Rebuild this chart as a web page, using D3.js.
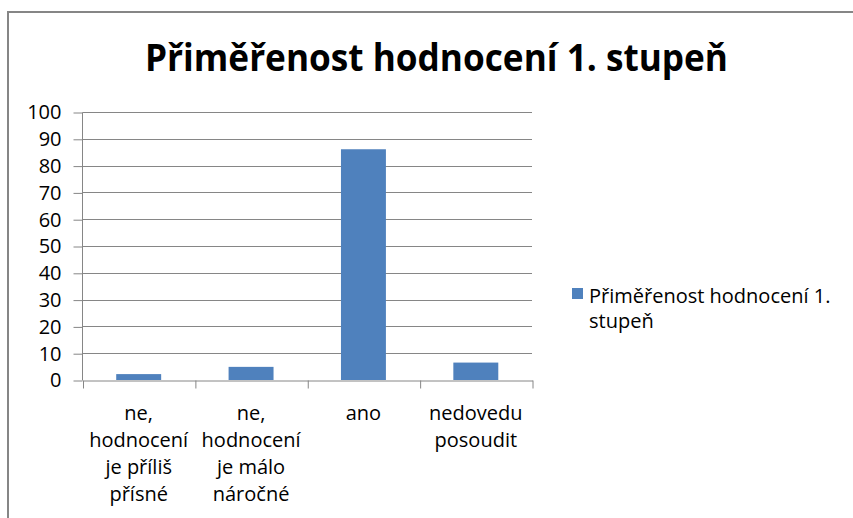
<!DOCTYPE html>
<html lang="cs">
<head>
<meta charset="UTF-8"/>
<title>Přiměřenost hodnocení 1. stupeň</title>
<script src="https://d3js.org/d3.v7.min.js"></script>
<style>
  body { margin: 0; background: #fff; overflow: hidden; }
  svg { display: block; font-family: "Open Sans", "Noto Sans", sans-serif; }
</style>
</head>
<body>
<svg id="chart" width="853" height="518"></svg>
<script>
const categories = [
  ["ne,", "hodnocení", "je příliš", "přísné"],
  ["ne,", "hodnocení", "je málo", "náročné"],
  ["ano"],
  ["nedovedu", "posoudit"]
];
const values = [2.2, 4.9, 86.1, 6.5];
const yTicks = [0, 10, 20, 30, 40, 50, 60, 70, 80, 90, 100];
const title = "Přiměřenost hodnocení 1. stupeň";
const seriesName = ["Přiměřenost hodnocení 1.", "stupeň"];

const svg = d3.select("#chart");
const blue = "#4f81bd";
const grey = "#868686";

// outer frame of the chart object, only top and left edges are in view
svg.append("path")
  .attr("d", "M8,518V12H853")
  .attr("fill", "none")
  .attr("stroke", grey)
  .attr("stroke-width", 2);

svg.append("text")
  .attr("x", 145).attr("y", 71)
  .attr("textLength", 583)
  .attr("lengthAdjust", "spacingAndGlyphs")
  .style("font-size", "38px")
  .style("font-weight", "bold")
  .text(title);

const plotL = 82.5, plotR = 532, plotT = 112, plotB = 380;
const ids = d3.range(values.length);

const band = d3.scaleBand().domain(ids).range([plotL, plotR]);
const x = d3.scaleBand().domain(ids).range([plotL, plotR])
  .paddingInner(0.6).paddingOuter(0.3);
const y = d3.scaleLinear().domain([0, 100]).range([plotB, plotT]);

// gridlines
svg.append("g")
  .selectAll("line")
  .data(yTicks.filter(d => d > 0))
  .join("line")
  .attr("x1", plotL).attr("x2", plotR)
  .attr("y1", d => Math.round(y(d)) + 0.5)
  .attr("y2", d => Math.round(y(d)) + 0.5)
  .attr("stroke", grey);

// y axis
const yAxis = svg.append("g")
  .attr("transform", `translate(${plotL},0.5)`)
  .call(d3.axisLeft(y).tickValues(yTicks).tickSize(9).tickPadding(12));
yAxis.selectAll("line, path").attr("stroke", grey);
yAxis.select(".domain").attr("d", `M0,${plotT}V${plotB}`);
yAxis.selectAll("text")
  .attr("fill", "#000")
  .style("font-size", "20px")
  .style("font-family", "\"Open Sans\", sans-serif");

// x axis with ticks at category boundaries
const xb = d3.scaleLinear().domain([0, values.length]).range([plotL, plotR]);
const xAxis = svg.append("g")
  .attr("transform", `translate(0.5,${plotB + 0.5})`)
  .call(d3.axisBottom(xb).tickValues(d3.range(values.length + 1))
    .tickSize(8).tickSizeOuter(0).tickFormat(""));
xAxis.selectAll("line, path").attr("stroke", grey);

// bars
svg.append("g")
  .selectAll("rect")
  .data(values)
  .join("rect")
  .attr("x", (d, i) => x(i))
  .attr("width", x.bandwidth())
  .attr("y", d => y(d))
  .attr("height", d => y(0) - y(d))
  .attr("fill", blue);

// category labels
const labels = svg.append("g")
  .selectAll("text")
  .data(categories)
  .join("text")
  .attr("text-anchor", "middle")
  .style("font-size", "20px")
  .attr("fill", "#000");
labels.selectAll("tspan")
  .data((d, i) => d.map(line => ({ line, i })))
  .join("tspan")
  .attr("x", d => band(d.i) + band.bandwidth() / 2)
  .attr("y", (d, j) => 420 + j * 27)
  .text(d => d.line);

// legend
svg.append("rect")
  .attr("x", 572).attr("y", 288)
  .attr("width", 11).attr("height", 11)
  .attr("fill", blue);
svg.append("text")
  .style("font-size", "20px")
  .selectAll("tspan")
  .data(seriesName)
  .join("tspan")
  .attr("x", 589)
  .attr("y", (d, i) => 303 + i * 25)
  .text(d => d);
</script>
</body>
</html>
